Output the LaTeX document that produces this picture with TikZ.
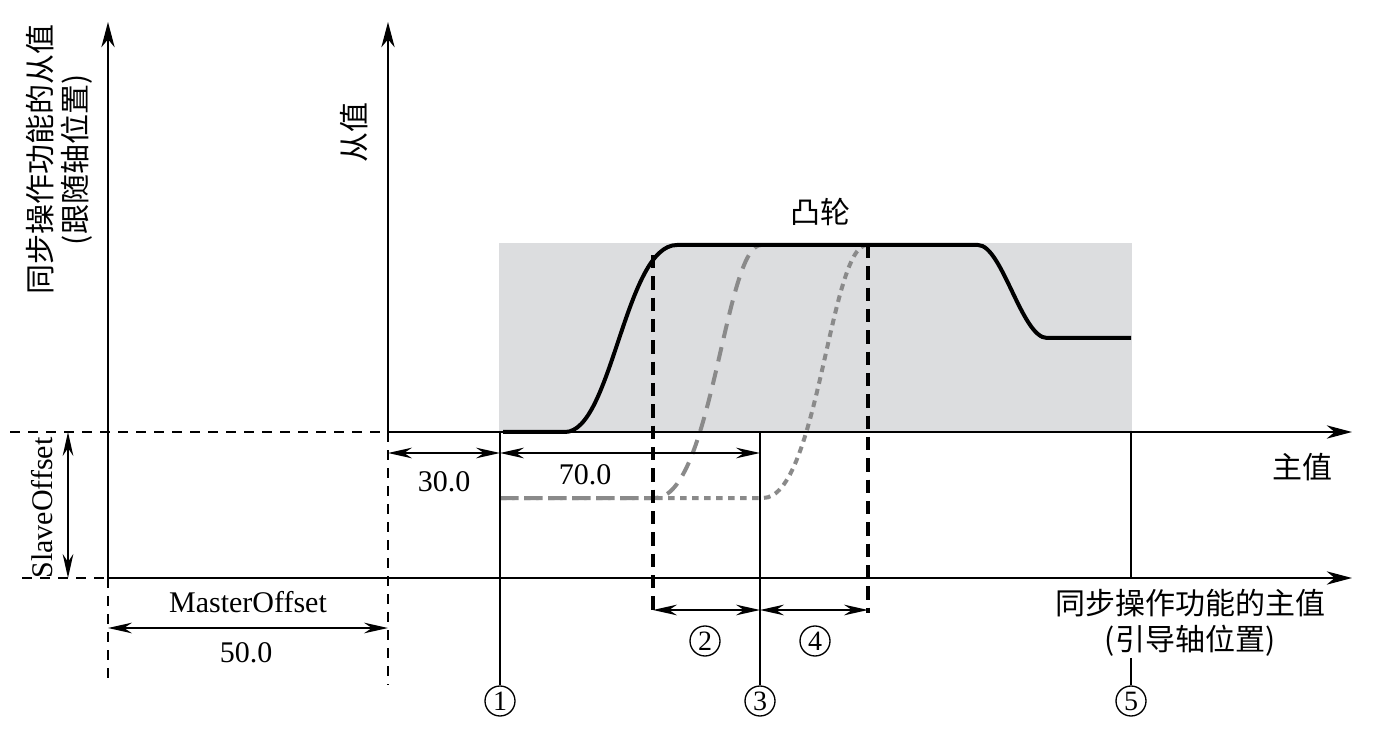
\documentclass[tikz,border=0pt]{standalone}
\usepackage{fontspec}
\setmainfont{Liberation Serif}
\newfontfamily\cjk{Noto Sans CJK SC}
\usetikzlibrary{arrows.meta}
\definecolor{camgray}{HTML}{DCDDDF}
\definecolor{curvegray}{HTML}{8A8A8A}
\begin{document}
\begin{tikzpicture}[x=0.75pt,y=-0.75pt,
  thinline/.style={line width=1.35pt},
  dimarrow/.style={thinline,{Stealth[length=18pt,width=8pt,inset=6pt]}-{Stealth[length=18pt,width=8pt,inset=6pt]}},
  axisarrow/.style={thinline,-{Stealth[length=19pt,width=10pt,inset=6pt]}},
  guide/.style={thinline,dash pattern=on 7.5pt off 6pt},
  camline/.style={line width=3pt},
  marker/.style={line width=3pt,dash pattern=on 10pt off 6pt},
  shiftA/.style={line width=3pt,curvegray,dash pattern=on 11pt off 7pt},
  shiftB/.style={line width=3pt,curvegray,dash pattern=on 5pt off 4pt},
  lbl/.style={font=\fontsize{22.5pt}{25pt}\selectfont,inner sep=0pt},
  cjklbl/.style={font=\cjk\fontsize{22.5pt}{27pt}\selectfont,inner sep=0pt},
  num/.style={circle,draw,line width=1pt,minimum size=22.5pt,inner sep=0pt,font=\fontsize{21pt}{20pt}\selectfont}]
\useasboundingbox (0,0) rectangle (1379,734);

% cam area
\fill[camgray] (499,243) rectangle (1132,432);

% coordinates
\coordinate (LAbot) at (108,578);
\coordinate (LAtop) at (108,22);
\coordinate (LAext) at (108,685);
\coordinate (SAbot) at (388,432);
\coordinate (SAtop) at (388,22);
\coordinate (SAext) at (388,685);
\coordinate (UAdash) at (10,432);
\coordinate (UAend) at (1352,432);
\coordinate (LWdash) at (22,578);
\coordinate (LWend) at (1352,578);

% shifted curves
\coordinate (g0) at (500,498);
\coordinate (g1) at (655,498);
\coordinate (g2) at (761,245);
\coordinate (h1) at (763,498);
\coordinate (h2) at (867,245);
\draw[shiftB] (g0) -- (h1) .. controls (818,498) and (830,245) .. (h2);
\draw[shiftA] (g0) -- (g1) .. controls (712,498) and (725,245) .. (g2);

% cam curve
\coordinate (c0) at (503,432);
\coordinate (c1) at (565,432);
\coordinate (c2) at (677,245);
\coordinate (c3) at (978,245);
\coordinate (c4) at (1047,338);
\coordinate (c5) at (1131,338);
\draw[camline] (c0) -- (c1) .. controls (612,432) and (625,245) .. (c2) -- (c3) .. controls (1002,245) and (1022,338) .. (c4) -- (c5);

% axes
\draw[guide] (UAdash) -- (SAbot);
\draw[axisarrow] (SAbot) -- (UAend);
\draw[guide] (LWdash) -- (LAbot);
\draw[axisarrow] (LAbot) -- (LWend);
\draw[axisarrow] (LAbot) -- (LAtop);
\draw[guide] (LAbot) -- (LAext);
\draw[axisarrow] (SAbot) -- (SAtop);
\draw[guide] (SAbot) -- (SAext);

% black dashed markers
\coordinate (m1t) at (653,255);
\coordinate (m1b) at (653,613);
\coordinate (m2t) at (868,245);
\coordinate (m2b) at (868,613);
\draw[marker] (m1t) -- (m1b);
\draw[marker] (m2t) -- (m2b);

% circled numbers
\node[num] (n1) at (500,701) {1};
\node[num] (n2) at (705,641) {2};
\node[num] (n3) at (760,701) {3};
\node[num] (n4) at (815,641) {4};
\node[num] (n5) at (1131,701) {5};

% vertical reference lines
\coordinate (p1) at (500,432);
\coordinate (p3) at (760,432);
\coordinate (p5) at (1131,432);
\coordinate (p5b) at (1131,578);
\coordinate (p5c) at (1131,658);
\draw[thinline] (p1) -- (n1.north);
\draw[thinline] (p3) -- (n3.north);
\draw[thinline] (p5) -- (p5b);
\draw[thinline] (p5c) -- (n5.north);

% dimension arrows
\coordinate (so1) at (68,432);
\coordinate (so2) at (68,578);
\draw[dimarrow] (so1) -- (so2);
\coordinate (mo1) at (108,628);
\coordinate (mo2) at (388,628);
\draw[dimarrow] (mo1) -- (mo2);
\coordinate (d30a) at (388,453);
\coordinate (d30b) at (500,453);
\coordinate (d70b) at (760,453);
\draw[dimarrow] (d30a) -- (d30b);
\draw[dimarrow] (d30b) -- (d70b);
\coordinate (q1) at (653,610);
\coordinate (q2) at (760,610);
\coordinate (q3) at (868,610);
\draw[dimarrow] (q1) -- (q2);
\draw[dimarrow] (q2) -- (q3);

% labels
\node[cjklbl,rotate=90] (ylab1) at (40,160) {同步操作功能的从值};
\node[cjklbl,rotate=90] (ylab2) at (77,160) {(跟随轴位置)};
\node[cjklbl,rotate=90] (ylab3) at (354,133) {从值};
\node[cjklbl] (cam) at (820,212) {凸轮};
\node[cjklbl] (xlab1) at (1302,467) {主值};
\node[cjklbl] (xlab2) at (1190,603) {同步操作功能的主值};
\node[cjklbl] (xlab3) at (1190,641) {(引导轴位置)};
\node[lbl,rotate=90] (slave) at (42,508) {SlaveOffset};
\node[lbl] (master) at (248,602) {MasterOffset};
\node[lbl] (v50) at (246,653) {50.0};
\node[lbl] (v30) at (444,482) {30.0};
\node[lbl] (v70) at (585,475) {70.0};
\end{tikzpicture}
\end{document}
